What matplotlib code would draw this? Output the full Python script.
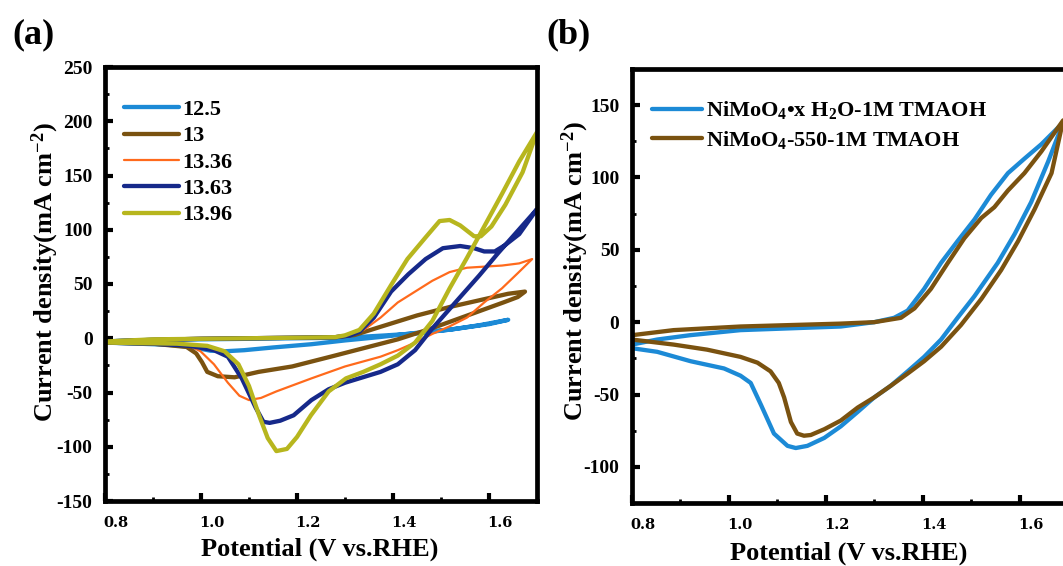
import numpy as np
import matplotlib
matplotlib.use("Agg")
import matplotlib.pyplot as plt
from matplotlib.transforms import ScaledTranslation

plt.rcParams['font.family'] = ['Liberation Serif', 'DejaVu Serif']
plt.rcParams['font.weight'] = 'bold'
plt.rcParams['axes.unicode_minus'] = False
plt.rcParams['mathtext.fontset'] = 'custom'
plt.rcParams['mathtext.rm'] = 'Liberation Serif:bold'
plt.rcParams['mathtext.it'] = 'Liberation Serif:bold:italic'
plt.rcParams['mathtext.bf'] = 'Liberation Serif:bold'

# ---- panel (a): CV curves at different pH ----
labels_a = ["12.5", "13", "13.36", "13.63", "13.96"]
colors_a = ["#1c8ad6", "#7a5210", "#ff6a1c", "#16298a", "#b7b61e"]
widths_a = [3.1, 3.1, 1.6, 3.1, 3.1]

v_125 = [0.80, 0.85, 0.90, 1.00, 1.10, 1.20, 1.30, 1.38, 1.45, 1.52, 1.58, 1.64,
         1.60, 1.52, 1.45, 1.37, 1.30, 1.23, 1.15, 1.09, 1.05, 1.02, 0.98, 0.93, 0.87, 0.80]
j_125 = [-3, -2, -1.5, -1, -0.5, 0, 0.5, 2.5, 4.5, 8, 12, 17,
         13, 8, 5, 1, -2, -5.5, -8.5, -11, -12, -11.5, -8, -6, -5, -4]

v_13 = [0.80, 0.90, 1.00, 1.10, 1.20, 1.28, 1.32, 1.37, 1.45, 1.52, 1.59, 1.64, 1.675,
        1.66, 1.63, 1.555, 1.48, 1.41, 1.34, 1.27, 1.19, 1.12, 1.07, 1.035, 1.013, 1.002, 0.99, 0.97, 0.90, 0.80]
j_13 = [-3, -1.5, -0.5, 0, 0.5, 1, 3, 10, 21, 29, 36, 41, 43,
        38, 33, 21, 9, -1, -9, -17, -26, -31, -36, -35, -31, -22, -14, -8, -5, -4]

v_1336 = [0.80, 0.90, 1.00, 1.10, 1.20, 1.28, 1.31, 1.34, 1.374, 1.41, 1.446, 1.482, 1.518, 1.554, 1.59, 1.627, 1.663, 1.69,
          1.66, 1.627, 1.59, 1.554, 1.518, 1.482, 1.446, 1.41, 1.374, 1.30, 1.23, 1.157, 1.125, 1.10, 1.08, 1.056, 1.027, 0.999, 0.977, 0.90, 0.80]
j_1336 = [-3, -1.5, -0.5, 0, 0.5, 1, 3, 8, 19, 33, 43, 53, 61, 65, 66, 67, 69, 73,
          60, 46, 33, 19, 11, 4, -4, -11, -17, -26, -37, -49, -55, -57, -53, -41, -24, -12, -7, -5, -4]

v_1363 = [0.80, 0.90, 1.00, 1.10, 1.20, 1.28, 1.31, 1.33, 1.36, 1.396, 1.432, 1.468, 1.504, 1.54, 1.569, 1.59, 1.612, 1.634, 1.663, 1.70,
          1.66, 1.62, 1.58, 1.54, 1.50, 1.48, 1.446, 1.41, 1.374, 1.30, 1.266, 1.23, 1.193, 1.165, 1.143, 1.13, 1.114, 1.085, 1.056, 1.027, 0.977, 0.90, 0.80]
j_1363 = [-3, -1.5, -0.5, 0, 0.5, 1, 2.5, 6, 19, 43, 59, 73, 83, 85, 83, 80, 80, 86, 96, 119,
          99, 79, 58, 38, 18, 8, -11, -24, -31, -41, -47, -57, -71, -76, -78, -77, -64, -37, -17, -11, -7, -5, -4]

v_1396 = [0.80, 0.90, 1.00, 1.10, 1.20, 1.28, 1.30, 1.33, 1.36, 1.396, 1.43, 1.468, 1.497, 1.518, 1.54, 1.569, 1.583, 1.605, 1.634, 1.67, 1.70,
          1.663, 1.627, 1.59, 1.554, 1.518, 1.482, 1.446, 1.41, 1.374, 1.338, 1.302, 1.266, 1.229, 1.20, 1.179, 1.157, 1.139, 1.121, 1.10, 1.078, 1.049, 1.013, 0.95, 0.80]
j_1396 = [-3, -1, -0.5, 0, 0.5, 1, 2.7, 7.7, 22.7, 49, 73, 93, 108, 109, 104, 94, 94, 103, 123, 153, 190,
          163, 133, 103, 74, 46, 16, -4, -16, -24, -31, -37, -49, -71, -91, -102, -104, -92, -71, -44, -24, -12, -7, -5, -4]

curves_a = [(v_125, j_125), (v_13, j_13), (v_1336, j_1336), (v_1363, j_1363), (v_1396, j_1396)]

# ---- panel (b): two catalysts in 1M TMAOH ----
labels_b = ["NiMoO$_4$•x H$_2$O-1M TMAOH", "NiMoO$_4$-550-1M TMAOH"]
colors_b = ["#1c8ad6", "#7a5210"]

v_hyd = [0.80, 0.852, 0.92, 1.024, 1.231, 1.30, 1.341, 1.369, 1.403, 1.438, 1.472, 1.507, 1.541, 1.576, 1.61, 1.645, 1.69,
         1.659, 1.624, 1.59, 1.555, 1.507, 1.472, 1.438, 1.403, 1.369, 1.334, 1.30, 1.266, 1.231, 1.197, 1.162, 1.138, 1.121, 1.093, 1.066, 1.045, 1.024, 0.99, 0.921, 0.852, 0.80]
j_hyd = [-15.5, -12, -9, -5.5, -3, 0, 3, 8, 23, 41, 56, 71, 88, 103, 113, 123, 138,
         111, 83, 61, 41, 18, 3, -12, -24, -34, -44, -52, -62, -72, -80, -85.5, -87, -85.5, -77, -57, -42, -37, -32, -27, -20.5, -18]

v_550 = [0.80, 0.886, 1.024, 1.231, 1.30, 1.355, 1.383, 1.417, 1.452, 1.486, 1.521, 1.548, 1.576, 1.61, 1.645, 1.69,
         1.666, 1.631, 1.597, 1.562, 1.521, 1.479, 1.438, 1.403, 1.369, 1.334, 1.30, 1.266, 1.231, 1.197, 1.169, 1.155, 1.141, 1.128, 1.114, 1.103, 1.086, 1.059, 1.024, 0.955, 0.886, 0.80]
j_550 = [-9, -5.5, -3, -1, 0, 3, 9.5, 23, 41, 58, 72, 79.5, 91, 103, 118, 139.5,
         103, 78, 56, 36, 16, -2, -17, -27, -35.5, -44, -52, -59, -68, -74, -78, -78.5, -77, -69, -52, -42, -34, -28, -24, -19, -15.5, -12]

curves_b = [(v_hyd, j_hyd), (v_550, j_550)]

fig = plt.figure(figsize=(10.63, 5.66), dpi=100)
ax1 = fig.add_axes([105/1063, 1-501/566, 432/1063, 434/566])
ax2 = fig.add_axes([632/1063, 1-503/566, 436/1063, 434/566])

for (v, j), lab, c, w in zip(curves_a, labels_a, colors_a, widths_a):
    ax1.plot(v, j, color=c, lw=w, label=lab, solid_capstyle='round', solid_joinstyle='round')
for (v, j), lab, c in zip(curves_b, labels_b, colors_b):
    ax2.plot(v, j, color=c, lw=3.1, label=lab, solid_capstyle='round', solid_joinstyle='round')

ax1.set_xlim(0.8, 1.7)
ax1.set_ylim(-150, 250)
ax1.set_yticks(np.arange(-150, 251, 50))
ax2.set_xlim(0.8, 1.7)
ax2.set_ylim(-125, 175)
ax2.set_yticks([-100, -50, 0, 50, 100, 150])

offset = ScaledTranslation(0.11, 0, fig.dpi_scale_trans)
for ax in (ax1, ax2):
    ax.set_xticks([0.8, 1.0, 1.2, 1.4, 1.6])
    ax.set_xticklabels(["0.8", "1.0", "1.2", "1.4", "1.6"], family='DejaVu Serif', fontsize=10.5, weight='bold')
    ax.set_xticks(np.arange(0.9, 1.71, 0.2), minor=True)
    ax.set_yticks(np.arange(ax.get_ylim()[0], ax.get_ylim()[1] + 1, 25), minor=True)
    ax.tick_params(axis='both', which='major', direction='in', length=6, width=3)
    ax.tick_params(axis='both', which='minor', direction='in', length=3, width=2)
    ax.tick_params(axis='y', which='major', labelsize=14, pad=9)
    ax.tick_params(axis='x', which='major', pad=11)
    for s in ax.spines.values():
        s.set_linewidth(3.4)
    for lab in ax.xaxis.get_majorticklabels():
        lab.set_transform(lab.get_transform() + offset)

ax1.legend(loc='upper left', bbox_to_anchor=(0.045, 0.925), frameon=False, fontsize=16,
           handlelength=2.45, handletextpad=0.15, labelspacing=0.26, borderpad=0, borderaxespad=0)
ax2.legend(loc='upper left', bbox_to_anchor=(0.045, 0.93), frameon=False, fontsize=16,
           handlelength=2.25, handletextpad=0.2, labelspacing=0.35, borderpad=0, borderaxespad=0)

ylab = "Current density(mA cm$^{-2}$)"
xlab = "Potential (V vs.RHE)"
fig.text(45/1063, 1-272/566, ylab, rotation=90, ha='center', va='center', fontsize=19)
fig.text(575/1063, 1-271/566, ylab, rotation=90, ha='center', va='center', fontsize=19)
fig.text(320/1063, 1-549/566, xlab, ha='center', va='center', fontsize=19)
fig.text(849/1063, 1-553/566, xlab, ha='center', va='center', fontsize=19)
fig.text(33/1063, 1-35/566, "(a)", ha='center', va='center', fontsize=26)
fig.text(568/1063, 1-35/566, "(b)", ha='center', va='center', fontsize=26)

fig.savefig("out.png", dpi=100)
